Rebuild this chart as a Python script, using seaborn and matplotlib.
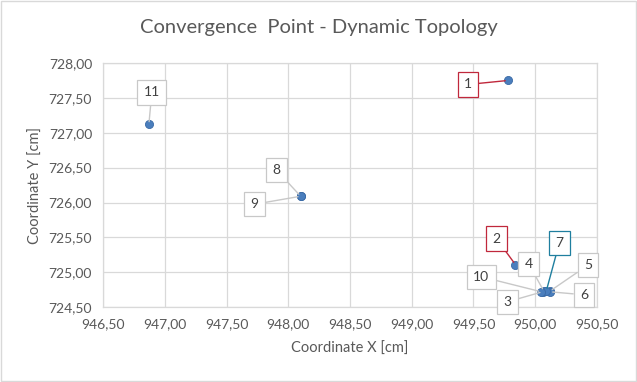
import matplotlib
matplotlib.use("Agg")
import matplotlib.pyplot as plt
import seaborn as sns
import pandas as pd
from matplotlib.patches import Rectangle
from matplotlib.ticker import FuncFormatter

# ---- data ----
labels = ["1", "2", "3", "4", "5", "6", "7", "8", "9", "10", "11"]
coord_x = [949.78, 949.84, 950.06, 950.07, 950.12, 950.12, 950.09, 948.10, 948.10, 950.05, 946.87]
coord_y = [727.75, 725.11, 724.72, 724.73, 724.73, 724.72, 724.73, 726.09, 726.09, 724.72, 727.12]
x_ticks = [946.5, 947.0, 947.5, 948.0, 948.5, 949.0, 949.5, 950.0, 950.5]
y_ticks = [724.5, 725.0, 725.5, 726.0, 726.5, 727.0, 727.5, 728.0]

# ---- styles (label offsets in pixels, border colours) ----
label_offsets = {"1": (-40, -4), "2": (-19, 26), "3": (-35, -10), "4": (-15, 27),
                 "5": (38, 26), "6": (34, -3), "7": (13, 48), "8": (-24, 26),
                 "9": (-46, -8), "10": (-60, 15), "11": (3, 32)}
label_colors = {"1": "#c0283c", "2": "#c0283c", "7": "#1f7f9f"}

df = pd.DataFrame({"x": coord_x, "y": coord_y, "label": labels})

sns.set_style("white")
plt.rcParams["font.family"] = ["Lato", "DejaVu Sans"]

fig = plt.figure(figsize=(6.37, 3.82), dpi=100)
ax = fig.add_axes([0.162, 0.196, 0.775, 0.639])

sns.scatterplot(data=df, x="x", y="y", ax=ax, color="#4a7ebd", edgecolor="#3a6aa5",
                s=34, linewidth=0.6, zorder=3, legend=False)

for lab, xv, yv in zip(labels, coord_x, coord_y):
    col = label_colors.get(lab, "#c8c8c8")
    ax.annotate(lab, (xv, yv), xytext=label_offsets[lab], textcoords="offset pixels",
                ha="center", va="center", fontsize=10, color="#404040",
                bbox=dict(boxstyle="square,pad=0.45", fc="white", ec=col, lw=0.9),
                arrowprops=dict(arrowstyle="-", color=col, lw=1.0, shrinkA=0, shrinkB=2),
                zorder=4)

ax.set_xlim(946.5, 950.5)
ax.set_ylim(724.5, 728.0)
ax.set_xticks(x_ticks)
ax.set_yticks(y_ticks)
fmt = FuncFormatter(lambda v, p: f"{v:.2f}".replace(".", ","))
ax.xaxis.set_major_formatter(fmt)
ax.yaxis.set_major_formatter(fmt)
ax.tick_params(axis="both", length=0, labelsize=10, labelcolor="#595959", pad=8)
ax.grid(True, color="#d9d9d9", lw=0.9)
for sp in ax.spines.values():
    sp.set_color("#d9d9d9")
    sp.set_linewidth(0.9)

ax.set_xlabel("Coordinate X [cm]", fontsize=10.5, color="#595959", labelpad=8)
ax.set_ylabel("Coordinate Y [cm]", fontsize=10.5, color="#595959", labelpad=4)
fig.text(0.5, 0.928, "Convergence  Point - Dynamic Topology", ha="center", va="center",
         fontsize=14.5, color="#595959")

fig.add_artist(Rectangle((0.001, 0.002), 0.997, 0.995, transform=fig.transFigure,
                         fill=False, edgecolor="#d9d9d9", lw=1))

fig.savefig("out.png", dpi=100)
